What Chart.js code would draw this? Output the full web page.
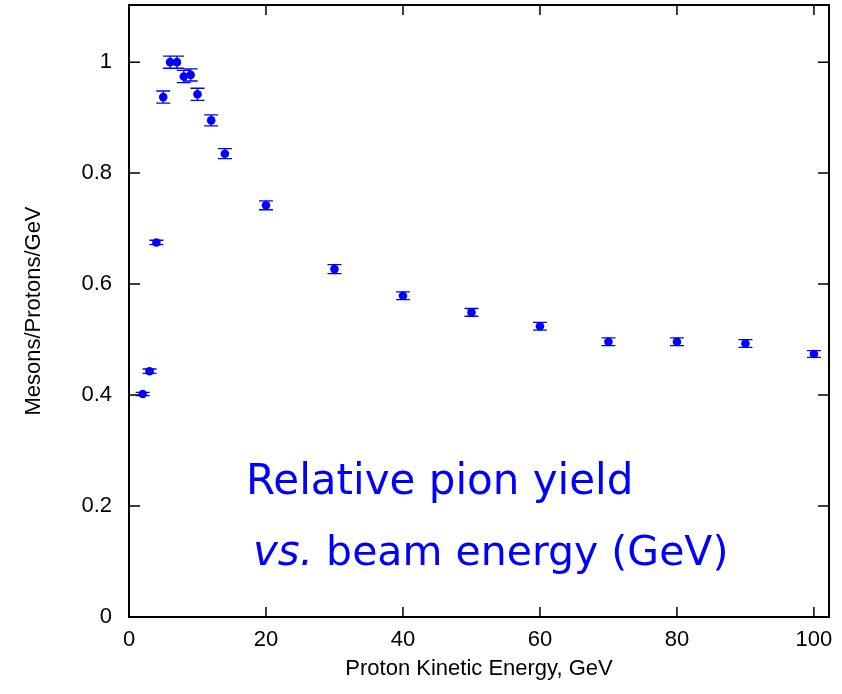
<!DOCTYPE html>
<html>
<head>
<meta charset="utf-8">
<script src="https://cdn.jsdelivr.net/npm/chart.js@4.4.1/dist/chart.umd.min.js"></script>
<style>
    body { margin: 0; background: #fff; }
    #wrap { width: 842px; height: 694px; position: relative; }
</style>
</head>
<body>
<div id="wrap"><canvas id="chartCanvas"></canvas></div>
<script>
// Proton kinetic energy (GeV) and relative yield, with error bar half-widths
const energy = [2, 3, 4, 5, 6, 7, 8, 9, 10, 12, 14, 20, 30, 40, 50, 60, 70, 80, 90, 100];
const yieldValues = [0.402, 0.443, 0.675, 0.937, 1.000, 1.000, 0.974, 0.977, 0.942, 0.895, 0.835, 0.742, 0.627, 0.579, 0.549, 0.524, 0.496, 0.496, 0.493, 0.474];
const yieldErrors = [0.003, 0.004, 0.004, 0.011, 0.011, 0.011, 0.011, 0.011, 0.011, 0.010, 0.009, 0.008, 0.008, 0.007, 0.007, 0.007, 0.007, 0.007, 0.007, 0.006];

const xTicks = [0, 20, 40, 60, 80, 100];
const yTicks = [0, 0.2, 0.4, 0.6, 0.8, 1];

const blue = '#0000ff';
const axisFont = { family: "'Liberation Sans', Arial, sans-serif", size: 22 };

// frame, inward ticks on all four sides
const framePlugin = {
    id: 'frame',
    afterDraw(chart) {
        const ctx = chart.ctx;
        const a = chart.chartArea;
        const xs = chart.scales.x;
        const ys = chart.scales.y;
        ctx.save();
        ctx.strokeStyle = '#000';
        ctx.lineWidth = 1.5;
        ctx.beginPath();
        xTicks.forEach(v => {
            const px = xs.getPixelForValue(v);
            ctx.moveTo(px, a.bottom); ctx.lineTo(px, a.bottom - 10);
            ctx.moveTo(px, a.top); ctx.lineTo(px, a.top + 10);
        });
        yTicks.forEach(v => {
            const py = ys.getPixelForValue(v);
            ctx.moveTo(a.left, py); ctx.lineTo(a.left + 11, py);
            ctx.moveTo(a.right, py); ctx.lineTo(a.right - 11, py);
        });
        ctx.stroke();
        ctx.lineWidth = 2;
        ctx.strokeRect(a.left, a.top, a.right - a.left, a.bottom - a.top);
        ctx.restore();
    }
};

// vertical error bars with caps
const errorBarPlugin = {
    id: 'errorBars',
    afterDatasetsDraw(chart) {
        const ctx = chart.ctx;
        const xs = chart.scales.x;
        const ys = chart.scales.y;
        ctx.save();
        ctx.strokeStyle = blue;
        ctx.lineWidth = 1.3;
        ctx.beginPath();
        energy.forEach((e, i) => {
            const px = xs.getPixelForValue(e);
            const top = ys.getPixelForValue(yieldValues[i] + yieldErrors[i]);
            const bot = ys.getPixelForValue(yieldValues[i] - yieldErrors[i]);
            const cap = 7;
            ctx.moveTo(px, top); ctx.lineTo(px, bot);
            ctx.moveTo(px - cap, top); ctx.lineTo(px + cap, top);
            ctx.moveTo(px - cap, bot); ctx.lineTo(px + cap, bot);
        });
        ctx.stroke();
        ctx.restore();
    }
};

// blue caption inside the plot
const captionPlugin = {
    id: 'caption',
    afterDraw(chart) {
        const ctx = chart.ctx;
        const fam = "'DejaVu Sans', sans-serif";
        ctx.save();
        ctx.fillStyle = blue;
        ctx.textBaseline = 'alphabetic';
        ctx.textAlign = 'left';
        ctx.font = '42px ' + fam;
        ctx.fillText('Relative pion yield', 246, 494);
        ctx.font = 'italic 42px ' + fam;
        ctx.fillText('vs.', 253, 565);
        const w = ctx.measureText('vs.').width;
        ctx.font = '41px ' + fam;
        ctx.fillText(' beam energy (GeV)', 253 + w, 565);
        ctx.restore();
    }
};

function noPadding(scale) {
    scale.paddingTop = 0;
    scale.paddingBottom = 0;
    scale.paddingLeft = 0;
    scale.paddingRight = 0;
}

const points = energy.map((e, i) => ({ x: e, y: yieldValues[i] }));

const ctx = document.getElementById('chartCanvas').getContext('2d');
let chart = new Chart(ctx, {
    type: 'scatter',
    data: {
        datasets: [{
            label: 'yield',
            data: points,
            backgroundColor: blue,
            borderColor: blue,
            pointRadius: 4.3,
            pointHoverRadius: 4.3,
            borderWidth: 0
        }]
    },
    options: {
        responsive: true,
        maintainAspectRatio: false,
        animation: false,
        layout: { padding: { top: 5, right: 13, left: 0, bottom: 0 } },
        plugins: {
            legend: { display: false },
            tooltip: { enabled: false }
        },
        scales: {
            x: {
                type: 'linear',
                min: 0,
                max: 102.2,
                grid: { display: false, drawTicks: false },
                border: { display: false },
                afterBuildTicks: scale => { scale.ticks = xTicks.map(v => ({ value: v })); },
                afterFit: scale => { scale.height = 77; noPadding(scale); },
                ticks: { color: '#000', font: axisFont, padding: 10, maxRotation: 0 },
                title: {
                    display: true,
                    text: 'Proton Kinetic Energy, GeV',
                    color: '#000',
                    font: axisFont,
                    padding: { top: 0, bottom: 12 }
                }
            },
            y: {
                min: 0,
                max: 1.103,
                grid: { display: false, drawTicks: false },
                border: { display: false },
                afterBuildTicks: scale => { scale.ticks = yTicks.map(v => ({ value: v })); },
                afterFit: scale => { scale.width = 129; noPadding(scale); },
                ticks: { color: '#000', font: axisFont, padding: 17, callback: v => String(v) },
                title: {
                    display: true,
                    text: 'Mesons/Protons/GeV',
                    color: '#000',
                    font: axisFont,
                    padding: { top: 21, bottom: 0 }
                }
            }
        }
    },
    plugins: [framePlugin, errorBarPlugin, captionPlugin]
});
</script>
</body>
</html>
